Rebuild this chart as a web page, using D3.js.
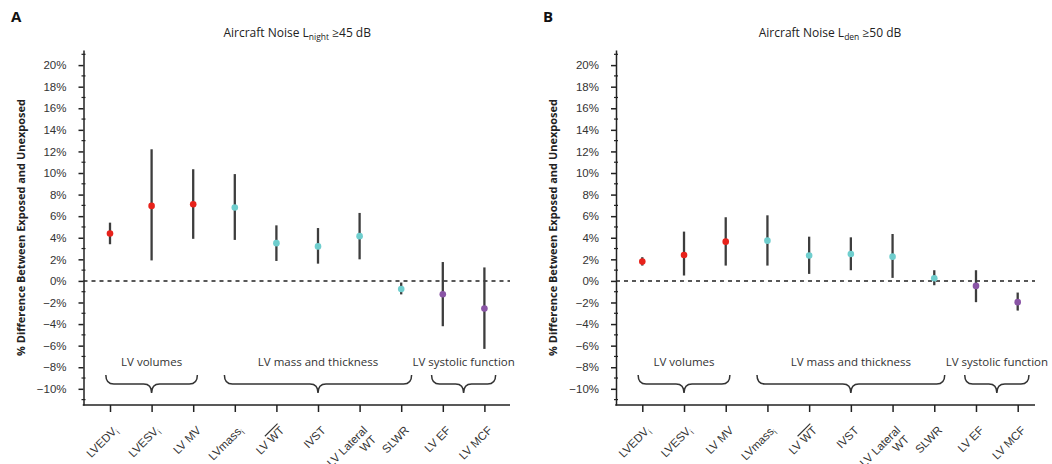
<!DOCTYPE html>
<html>
<head>
<meta charset="utf-8">
<script src="https://cdn.jsdelivr.net/npm/d3@7"></script>
<style>
	body { margin: 0; background: #fff; }
	svg { display: block; font-family: "Open Sans", "Noto Sans", sans-serif; }
</style>
</head>
<body>
<script>
// categories and their tick labels ("_" = subscript, "^" = overline, "\n" = new line)
var categories = ['LVEDVi', 'LVESVi', 'LV MV', 'LVmassi', 'LV WT', 'IVST', 'LV Lateral WT', 'SLWR', 'LV EF', 'LV MCF'];
var tickLabels = ['LVEDV_i', 'LVESV_i', 'LV MV', 'LVmass_i', 'LV ^WT', 'IVST', 'LV Lateral\nWT', 'SLWR', 'LV EF', 'LV MCF'];

var groupNames = ['LV volumes', 'LV mass and thickness', 'LV systolic function'];
var groupFirst = [0, 3, 8];
var groupLast = [2, 7, 9];
var groupColors = ['#e8221b', '#6fcece', '#8a55a6'];
var groupOf = [0, 0, 0, 1, 1, 1, 1, 1, 2, 2];

var yTicks = [-10, -8, -6, -4, -2, 0, 2, 4, 6, 8, 10, 12, 14, 16, 18, 20];
var yMinorTicks = [-11, -9, -7, -5, -3, -1, 1, 3, 5, 7, 9, 11, 13, 15, 17, 19, 21];

// panel A: Lnight >= 45 dB
var nightEst = [4.4, 6.95, 7.1, 6.8, 3.5, 3.2, 4.15, -0.75, -1.23, -2.55];
var nightLow = [3.4, 1.9, 3.9, 3.8, 1.85, 1.6, 2.0, -1.25, -4.2, -6.3];
var nightHigh = [5.4, 12.2, 10.35, 9.9, 5.15, 4.9, 6.3, -0.15, 1.75, 1.25];

// panel B: Lden >= 50 dB
var denEst = [1.79, 2.4, 3.64, 3.73, 2.35, 2.5, 2.25, 0.25, -0.46, -1.97];
var denLow = [1.42, 0.5, 1.42, 1.42, 0.65, 0.99, 0.28, -0.4, -1.97, -2.75];
var denHigh = [2.2, 4.57, 5.9, 6.08, 4.1, 4.04, 4.35, 0.99, 0.99, -1.08];

var width = 1052, height = 464;
var yTop = 50, yBottom = 405, yDomain = [-11.5, 21.4];
var bracePad = [0.1, 0.25, 0.27];

var panels = [
	{ letter: 'A', sub: 'night', tail: ' \u226545 dB', est: nightEst, low: nightLow, high: nightHigh,
		axisLeft: 83.5, axisRight: 510, firstX: 110, lastX: 484.4, letterX: 11, labelX: 21 },
	{ letter: 'B', sub: 'den', tail: ' \u226550 dB', est: denEst, low: denLow, high: denHigh,
		axisLeft: 616, axisRight: 1035, firstX: 642.3, lastX: 1017.7, letterX: 543, labelX: 553 }
];

var svg = d3.select('body').append('svg')
	.attr('width', width)
	.attr('height', height);

svg.append('rect').attr('width', width).attr('height', height).attr('fill', '#fff');

var y = d3.scaleLinear().domain(yDomain).range([yBottom, yTop]);

function fmtPct(d) {
	return (d < 0 ? '\u2212' + Math.abs(d) : d) + '%';
}

// append text with subscript / overline markup
function addRich(sel, line) {
	var re = /([_^])(\w+)/g, last = 0, m;
	while ((m = re.exec(line))) {
		if (m.index > last) sel.append('tspan').text(line.slice(last, m.index));
		var t = sel.append('tspan').text(m[2]);
		if (m[1] === '_') {
			t.attr('baseline-shift', '-3').attr('font-size', '8px');
		} else {
			t.style('text-decoration', 'overline');
		}
		last = re.lastIndex;
	}
	if (last < line.length) sel.append('tspan').text(line.slice(last));
}

function bracePath(x0, x1, top, mid, tip) {
	var cx = (x0 + x1) / 2, r = 8;
	return 'M' + x0 + ',' + top +
		' Q' + x0 + ',' + mid + ' ' + (x0 + r) + ',' + mid +
		' L' + (cx - r) + ',' + mid +
		' Q' + cx + ',' + mid + ' ' + cx + ',' + tip +
		' Q' + cx + ',' + mid + ' ' + (cx + r) + ',' + mid +
		' L' + (x1 - r) + ',' + mid +
		' Q' + x1 + ',' + mid + ' ' + x1 + ',' + top;
}

panels.forEach(function (p) {
	var g = svg.append('g');

	var x = d3.scalePoint().domain(categories).range([p.firstX, p.lastX]);
	var step = x.step();

	// panel letter
	g.append('text')
		.attr('x', p.letterX).attr('y', 22)
		.attr('font-size', '15px').attr('font-weight', 'bold').attr('fill', '#111')
		.text(p.letter);

	// title
	var title = g.append('text')
		.attr('x', (p.firstX + p.lastX) / 2).attr('y', 37)
		.attr('text-anchor', 'middle')
		.attr('font-size', '12px').attr('fill', '#222');
	title.append('tspan').text('Aircraft Noise L');
	title.append('tspan').attr('baseline-shift', '-3').attr('font-size', '8.5px').text(p.sub);
	title.append('tspan').text(p.tail);

	// y axis title
	g.append('text')
		.attr('transform', 'translate(' + p.labelX + ',' + ((yTop + yBottom) / 2) + ') rotate(-90)')
		.attr('text-anchor', 'middle').attr('dy', '0.35em')
		.attr('font-size', '11px').attr('font-weight', 'bold').attr('fill', '#222')
		.text('% Difference Between Exposed and Unexposed');

	// y axis
	var yAxisEl = g.append('g')
		.attr('transform', 'translate(' + p.axisLeft + ',0)')
		.call(d3.axisLeft(y).tickValues(yTicks).tickSize(5).tickSizeOuter(0).tickPadding(12).tickFormat(fmtPct));
	yAxisEl.select('.domain').attr('stroke', '#222').attr('stroke-width', 1.5);
	yAxisEl.selectAll('.tick line').attr('stroke', '#222').attr('stroke-width', 1.5);
	yAxisEl.selectAll('.tick text').attr('font-size', '11.5px').attr('fill', '#333').attr('font-family', null);
	yAxisEl.selectAll('.minor').data(yMinorTicks).enter().append('line')
		.attr('class', 'minor')
		.attr('x1', -2).attr('x2', 2)
		.attr('y1', function (d) { return y(d); })
		.attr('y2', function (d) { return y(d); })
		.attr('stroke', '#222').attr('stroke-width', 1.2);

	// x axis
	var xAxisEl = g.append('g')
		.attr('transform', 'translate(0,' + yBottom + ')')
		.call(d3.axisBottom(x).tickSize(7).tickSizeOuter(0));
	xAxisEl.select('.domain').remove();
	xAxisEl.append('line')
		.attr('x1', p.axisLeft - 0.75).attr('x2', p.axisRight)
		.attr('stroke', '#222').attr('stroke-width', 1.5);
	xAxisEl.selectAll('.tick line').attr('stroke', '#222').attr('stroke-width', 1.5);
	xAxisEl.selectAll('.tick text').each(function (d, i) {
		var t = d3.select(this).text(null)
			.attr('x', null).attr('y', null).attr('dy', null)
			.attr('text-anchor', 'end')
			.attr('transform', 'translate(8,26) rotate(-45)')
			.attr('font-size', '11.5px').attr('fill', '#333').attr('font-family', null);
		tickLabels[i].split('\n').forEach(function (line, li) {
			var ts = t.append('tspan').attr('x', 0).attr('dy', li ? '1.1em' : 0);
			addRich(ts, line);
		});
	});

	// zero reference line
	g.append('line')
		.attr('x1', p.axisLeft).attr('x2', p.axisRight)
		.attr('y1', y(0)).attr('y2', y(0))
		.attr('stroke', '#222').attr('stroke-width', 1.5)
		.attr('stroke-dasharray', '4,4');

	// group braces and labels
	groupNames.forEach(function (name, gi) {
		var x0 = x(categories[groupFirst[gi]]) - step * bracePad[gi];
		var x1 = x(categories[groupLast[gi]]) + step * bracePad[gi];
		g.append('path')
			.attr('d', bracePath(x0, x1, 375, 384, 393))
			.attr('fill', 'none').attr('stroke', '#333').attr('stroke-width', 1.5);
		g.append('text')
			.attr('x', (x0 + x1) / 2).attr('y', 366)
			.attr('text-anchor', 'middle')
			.attr('font-size', '11.5px').attr('fill', '#333')
			.text(name);
	});

	// confidence intervals
	g.selectAll('.ci').data(categories).enter().append('line')
		.attr('class', 'ci')
		.attr('x1', function (d) { return x(d); })
		.attr('x2', function (d) { return x(d); })
		.attr('y1', function (d, i) { return y(p.low[i]); })
		.attr('y2', function (d, i) { return y(p.high[i]); })
		.attr('stroke', '#3d3d3d').attr('stroke-width', 2.3);

	// point estimates
	g.selectAll('.est').data(categories).enter().append('circle')
		.attr('class', 'est')
		.attr('cx', function (d) { return x(d); })
		.attr('cy', function (d, i) { return y(p.est[i]); })
		.attr('r', 3.3)
		.attr('fill', function (d, i) { return groupColors[groupOf[i]]; });
});
</script>
</body>
</html>
